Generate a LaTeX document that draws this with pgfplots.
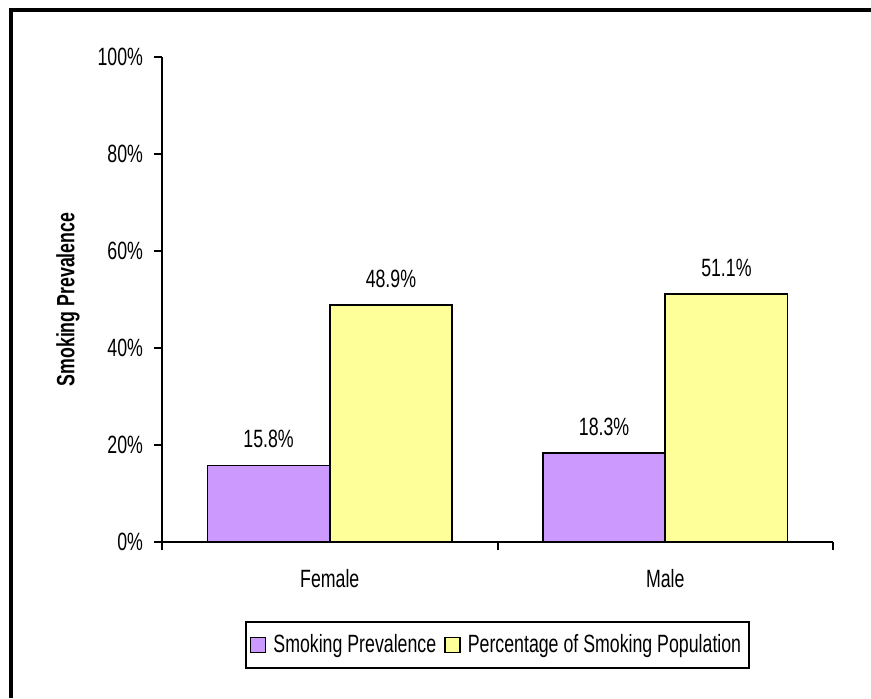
\documentclass[border=0pt]{standalone}
\usepackage{pgfplots}
\pgfplotsset{compat=1.18}
\usepackage{fontspec}
\setmainfont{Liberation Sans}[FakeStretch=0.71]
\definecolor{barpurple}{HTML}{CC99FF}
\definecolor{baryellow}{HTML}{FFFF99}
\begin{document}
\begin{tikzpicture}
\useasboundingbox (0,0) rectangle (435.5pt,349pt);
\fill[white] (0,0) rectangle (435.5pt,349pt);
\draw[line width=2pt] (5.5pt,0) -- (5.5pt,344pt) -- (435.5pt,344pt);
\begin{axis}[
  at={(81pt,78pt)}, anchor=south west,
  scale only axis,
  width=335.5pt, height=242.5pt,
  font=\fontsize{12.5}{14}\selectfont,
  /pgf/number format/assume math mode=true,
  axis x line*=bottom, axis y line*=left,
  axis line style={line width=1pt},
  every tick/.style={line width=1pt, black},
  tick align=outside,
  xmin=-0.5, xmax=1.5,
  ymin=0, ymax=100,
  ytick={0,20,40,60,80,100},
  yticklabel={\pgfmathprintnumber{\tick}\%},
  yticklabel style={xshift=-2pt},
  major tick length=4pt,
  xtick={-0.5,0.5,1.5},
  xticklabels={},
  extra x ticks={0,1},
  extra x tick labels={Female,Male},
  extra x tick style={major tick length=0pt, tick label style={yshift=-10pt}},
  ylabel={\bfseries Smoking Prevalence},
  ylabel style={at={(axis description cs:-0.14,0.5)}, anchor=center},
  ybar,
  bar width=0.3646,
  nodes near coords={\pgfmathprintnumber[fixed,precision=1,fixed zerofill]{\pgfplotspointmeta}\%},
  every node near coord/.append style={font=\fontsize{12.5}{14}\selectfont, yshift=5pt},
  legend style={at={(0.5,-0.2124)}, anchor=center, draw=black, line width=1pt,
    legend columns=2, font=\fontsize{12.5}{14}\selectfont,
    /tikz/every even column/.append style={column sep=2pt},
    inner xsep=2pt, inner ysep=4pt},
  legend image code/.code={\draw[#1, line width=0.8pt] (0pt,-3.75pt) rectangle (7.5pt,3.75pt); \path (9pt,0pt);},
]
\addplot[fill=barpurple, draw=black, line width=0.8pt, bar shift=-0.1823] coordinates {(0,15.8) (1,18.3)};
\addplot[fill=baryellow, draw=black, line width=0.8pt, bar shift=0.1823] coordinates {(0,48.9) (1,51.1)};
\legend{Smoking Prevalence, Percentage of Smoking Population}
\end{axis}
\end{tikzpicture}
\end{document}
